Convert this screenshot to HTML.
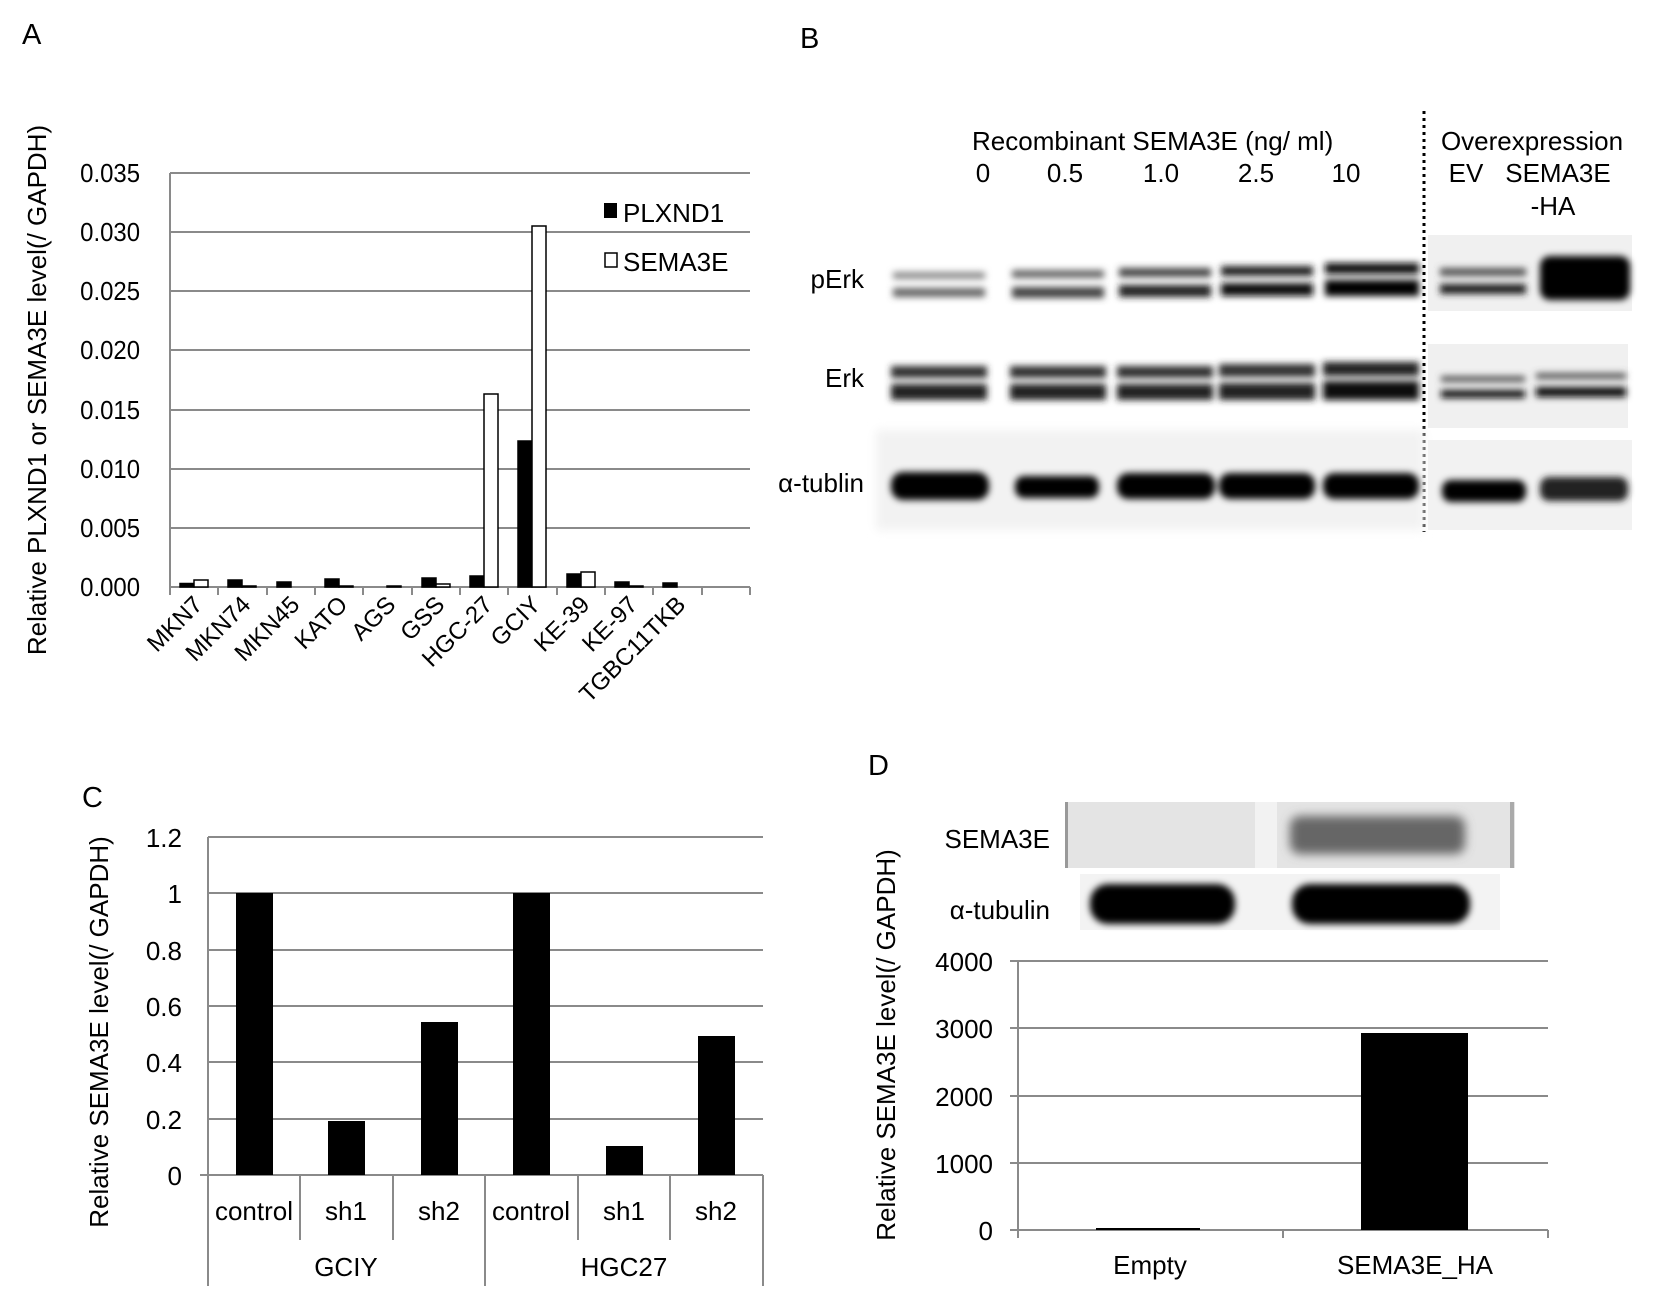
<!DOCTYPE html>
<html><head><meta charset="utf-8"><style>
html,body{margin:0;padding:0;background:#fff}
svg{display:block}
text{font-family:"Liberation Sans",Arial,sans-serif;fill:#000}
</style></head><body>
<svg width="1654" height="1289" viewBox="0 0 1654 1289" xmlns="http://www.w3.org/2000/svg">
<defs>
<filter id="b3" x="-20%" y="-50%" width="140%" height="200%"><feGaussianBlur stdDeviation="3.5"/></filter>
<filter id="b5" x="-20%" y="-50%" width="140%" height="200%"><feGaussianBlur stdDeviation="5"/></filter>
</defs>
<rect width="1654" height="1289" fill="#fff"/>

<!-- Panel A -->
<text x="22" y="44" font-size="29">A</text>
<g stroke="#8a8a8a" stroke-width="2">
<line x1="170" y1="173" x2="750" y2="173"/>
<line x1="170" y1="232" x2="750" y2="232"/>
<line x1="170" y1="291" x2="750" y2="291"/>
<line x1="170" y1="350" x2="750" y2="350"/>
<line x1="170" y1="410" x2="750" y2="410"/>
<line x1="170" y1="469" x2="750" y2="469"/>
<line x1="170" y1="528" x2="750" y2="528"/>
<line x1="170" y1="173" x2="170" y2="587"/>
<line x1="170" y1="587" x2="750" y2="587"/>
<path d="M170 587v8M218 587v8M267 587v8M315 587v8M363 587v8M412 587v8M460 587v8M508 587v8M557 587v8M605 587v8M653 587v8M702 587v8M750 587v8"/>
</g>
<g font-size="26" text-anchor="end" transform="translate(140,0) scale(0.92,1) translate(-140,0)">
<text x="140" y="182">0.035</text>
<text x="140" y="241">0.030</text>
<text x="140" y="300">0.025</text>
<text x="140" y="359">0.020</text>
<text x="140" y="419">0.015</text>
<text x="140" y="478">0.010</text>
<text x="140" y="537">0.005</text>
<text x="140" y="596">0.000</text>
</g>
<text transform="translate(46,390) rotate(-90)" font-size="26" text-anchor="middle">Relative PLXND1 or SEMA3E level(/ GAPDH)</text>
<g stroke="#000" stroke-width="1.5">
<rect x="180" y="583.5" width="14" height="3.5" fill="#000"/><rect x="194" y="580" width="14" height="7" fill="#fff"/>
<rect x="228" y="580" width="14" height="7" fill="#000"/><rect x="242" y="586" width="14" height="1" fill="#fff"/>
<rect x="277" y="582" width="14" height="5" fill="#000"/>
<rect x="325" y="579" width="14" height="8" fill="#000"/><rect x="339" y="586" width="14" height="1" fill="#fff"/>
<rect x="387" y="586" width="14" height="1" fill="#fff"/>
<rect x="422" y="578" width="14" height="9" fill="#000"/><rect x="436" y="584" width="14" height="3" fill="#fff"/>
<rect x="470" y="576" width="14" height="11" fill="#000"/><rect x="484" y="394" width="14" height="193" fill="#fff"/>
<rect x="518" y="441" width="14" height="146" fill="#000"/><rect x="532" y="226" width="14" height="361" fill="#fff"/>
<rect x="567" y="574" width="14" height="13" fill="#000"/><rect x="581" y="572" width="14" height="15" fill="#fff"/>
<rect x="615" y="582" width="14" height="5" fill="#000"/><rect x="629" y="586" width="14" height="1" fill="#fff"/>
<rect x="663" y="583" width="14" height="4" fill="#000"/>
</g>
<rect x="604" y="203" width="13" height="15" fill="#000"/>
<rect x="605" y="253" width="12" height="14" fill="#fff" stroke="#000" stroke-width="1.5"/>
<text x="623" y="222" font-size="26">PLXND1</text>
<text x="623" y="271" font-size="26">SEMA3E</text>
<g font-size="24" text-anchor="end">
<text transform="translate(204,606) rotate(-45)">MKN7</text>
<text transform="translate(252,606) rotate(-45)">MKN74</text>
<text transform="translate(301,606) rotate(-45)">MKN45</text>
<text transform="translate(349,606) rotate(-45)">KATO</text>
<text transform="translate(397,606) rotate(-45)">AGS</text>
<text transform="translate(446,606) rotate(-45)">GSS</text>
<text transform="translate(494,606) rotate(-45)">HGC-27</text>
<text transform="translate(542,606) rotate(-45)">GCIY</text>
<text transform="translate(591,606) rotate(-45)">KE-39</text>
<text transform="translate(639,606) rotate(-45)">KE-97</text>
<text transform="translate(687,606) rotate(-45)">TGBC11TKB</text>
</g>

<!-- Panel B -->
<text x="800" y="48" font-size="29">B</text>
<text x="972" y="150" font-size="26">Recombinant SEMA3E (ng/ ml)</text>
<g font-size="26" text-anchor="middle">
<text x="983" y="182">0</text><text x="1065" y="182">0.5</text><text x="1161" y="182">1.0</text><text x="1256" y="182">2.5</text><text x="1346" y="182">10</text>
<text x="1532" y="150">Overexpression</text>
<text x="1466" y="182">EV</text><text x="1558" y="182">SEMA3E</text>
<text x="1553" y="215">-HA</text>
</g>
<line x1="1424" y1="111" x2="1424" y2="532" stroke="#000" stroke-width="3" stroke-dasharray="3,4"/>
<g font-size="26" text-anchor="end">
<text x="864" y="288">pErk</text><text x="864" y="387">Erk</text><text x="864" y="492">α-tublin</text>
</g>
<rect x="876" y="430" width="548" height="100" fill="#f2f2f2" filter="url(#b5)"/>
<rect x="1428" y="235" width="204" height="76" fill="#f0f0f0"/>
<rect x="1428" y="344" width="200" height="84" fill="#f0f0f0"/>
<rect x="1428" y="440" width="204" height="90" fill="#f2f2f2"/>
<g filter="url(#b3)">
<rect x="893" y="272" width="92" height="7" fill="#8a8a8a"/><rect x="893" y="288" width="92" height="9" fill="#666"/>
<rect x="1012" y="270" width="92" height="8" fill="#666"/><rect x="1012" y="287" width="92" height="11" fill="#444"/>
<rect x="1119" y="268" width="92" height="9" fill="#444"/><rect x="1119" y="285" width="92" height="12" fill="#222"/>
<rect x="1221" y="266" width="92" height="10" fill="#222"/><rect x="1221" y="283" width="92" height="13" fill="#111"/>
<rect x="1325" y="263" width="94" height="11" fill="#111"/><rect x="1325" y="280" width="94" height="16" fill="#000"/>
<rect x="1440" y="268" width="86" height="8" fill="#555"/><rect x="1440" y="284" width="86" height="10" fill="#222"/>
<rect x="1540" y="256" width="90" height="44" rx="10" fill="#000"/>
<rect x="891" y="366" width="96" height="12" fill="#333"/><rect x="891" y="384" width="96" height="16" fill="#222"/>
<rect x="1010" y="366" width="96" height="12" fill="#333"/><rect x="1010" y="384" width="96" height="16" fill="#222"/>
<rect x="1117" y="366" width="96" height="12" fill="#333"/><rect x="1117" y="384" width="96" height="16" fill="#222"/>
<rect x="1219" y="364" width="96" height="13" fill="#333"/><rect x="1219" y="383" width="96" height="17" fill="#222"/>
<rect x="1323" y="362" width="96" height="14" fill="#222"/><rect x="1323" y="381" width="96" height="19" fill="#111"/>
<rect x="1441" y="376" width="84" height="6" fill="#555"/><rect x="1441" y="390" width="84" height="8" fill="#111"/>
<rect x="1536" y="373" width="90" height="6" fill="#555"/><rect x="1536" y="387" width="90" height="10" fill="#111"/>
<rect x="891" y="472" width="98" height="28" rx="12" fill="#000"/>
<rect x="1015" y="476" width="84" height="22" rx="9" fill="#000"/>
<rect x="1117" y="473" width="98" height="26" rx="11" fill="#000"/>
<rect x="1219" y="473" width="96" height="26" rx="11" fill="#000"/>
<rect x="1323" y="473" width="96" height="26" rx="11" fill="#000"/>
<rect x="1442" y="480" width="84" height="22" rx="9" fill="#000"/>
<rect x="1540" y="477" width="88" height="24" rx="9" fill="#222"/>
</g>

<!-- Panel C -->
<text x="82" y="807" font-size="29">C</text>
<g stroke="#8a8a8a" stroke-width="2">
<line x1="208" y1="837" x2="763" y2="837"/>
<line x1="208" y1="893" x2="763" y2="893"/>
<line x1="208" y1="950" x2="763" y2="950"/>
<line x1="208" y1="1006" x2="763" y2="1006"/>
<line x1="208" y1="1062" x2="763" y2="1062"/>
<line x1="208" y1="1119" x2="763" y2="1119"/>
<line x1="200" y1="1175" x2="763" y2="1175"/>
<line x1="208" y1="837" x2="208" y2="1286"/>
<line x1="485" y1="1175" x2="485" y2="1286"/>
<line x1="763" y1="1175" x2="763" y2="1286"/>
<line x1="300" y1="1175" x2="300" y2="1240"/>
<line x1="393" y1="1175" x2="393" y2="1240"/>
<line x1="578" y1="1175" x2="578" y2="1240"/>
<line x1="670" y1="1175" x2="670" y2="1240"/>
</g>
<g font-size="26" text-anchor="end">
<text x="182" y="847">1.2</text><text x="182" y="903">1</text><text x="182" y="960">0.8</text><text x="182" y="1016">0.6</text><text x="182" y="1072">0.4</text><text x="182" y="1129">0.2</text><text x="182" y="1185">0</text>
</g>
<text transform="translate(108,1032) rotate(-90)" font-size="26" text-anchor="middle">Relative SEMA3E level(/ GAPDH)</text>
<g fill="#000">
<rect x="236" y="893" width="37" height="282"/>
<rect x="328" y="1121" width="37" height="54"/>
<rect x="421" y="1022" width="37" height="153"/>
<rect x="513" y="893" width="37" height="282"/>
<rect x="606" y="1146" width="37" height="29"/>
<rect x="698" y="1036" width="37" height="139"/>
</g>
<g font-size="26" text-anchor="middle">
<text x="254" y="1220">control</text><text x="346" y="1220">sh1</text><text x="439" y="1220">sh2</text>
<text x="531" y="1220">control</text><text x="624" y="1220">sh1</text><text x="716" y="1220">sh2</text>
<text x="346" y="1276">GCIY</text><text x="624" y="1276">HGC27</text>
</g>

<!-- Panel D -->
<text x="868" y="775" font-size="29">D</text>
<rect x="1065" y="802" width="450" height="66" fill="#e4e4e4"/>
<rect x="1255" y="802" width="22" height="66" fill="#f2f2f2"/>
<rect x="1065" y="802" width="3" height="66" fill="#999"/>
<rect x="1510" y="802" width="4" height="66" fill="#aaa"/>
<rect x="1290" y="816" width="175" height="38" rx="10" fill="#666" filter="url(#b5)"/>
<rect x="1080" y="874" width="420" height="56" fill="#f3f3f3"/>
<rect x="1090" y="884" width="145" height="40" rx="18" fill="#000" filter="url(#b3)"/>
<rect x="1292" y="884" width="178" height="40" rx="18" fill="#000" filter="url(#b3)"/>
<g font-size="26" text-anchor="end">
<text x="1050" y="848">SEMA3E</text><text x="1050" y="919">α-tubulin</text>
</g>
<g stroke="#8a8a8a" stroke-width="2">
<line x1="1018" y1="961" x2="1548" y2="961"/>
<line x1="1018" y1="1028" x2="1548" y2="1028"/>
<line x1="1018" y1="1096" x2="1548" y2="1096"/>
<line x1="1018" y1="1163" x2="1548" y2="1163"/>
<line x1="1018" y1="1230" x2="1548" y2="1230"/>
<line x1="1018" y1="961" x2="1018" y2="1238"/>
<path d="M1283 1230v8M1548 1230v8M1010 961h8M1010 1028h8M1010 1096h8M1010 1163h8M1010 1230h8"/>
</g>
<g font-size="26" text-anchor="end">
<text x="993" y="971">4000</text><text x="993" y="1038">3000</text><text x="993" y="1106">2000</text><text x="993" y="1173">1000</text><text x="993" y="1240">0</text>
</g>
<text transform="translate(895,1045) rotate(-90)" font-size="26" text-anchor="middle">Relative SEMA3E level(/ GAPDH)</text>
<rect x="1096" y="1228" width="104" height="2" fill="#000"/>
<rect x="1361" y="1033" width="107" height="197" fill="#000"/>
<g font-size="26" text-anchor="middle">
<text x="1150" y="1274">Empty</text><text x="1415" y="1274">SEMA3E_HA</text>
</g>
</svg>
</body></html>
